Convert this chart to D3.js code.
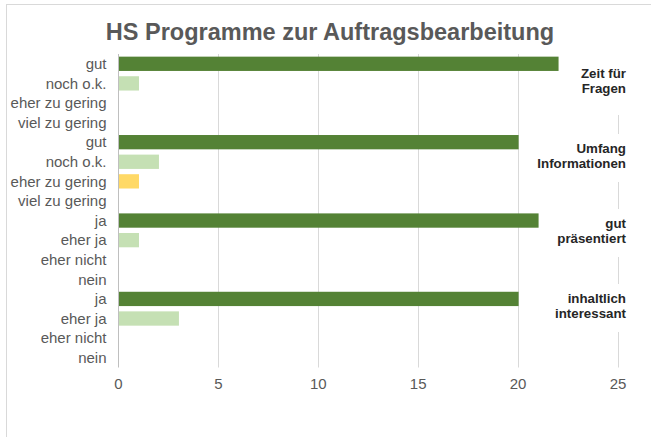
<!DOCTYPE html>
<html>

<head>
  <title>HS Programme zur Auftragsbearbeitung</title>
  <script src="https://d3js.org/d3.v7.min.js"></script>
  <style>
    body { margin: 0; background: #fff; }
    text { font-family: "Liberation Sans", Arial, sans-serif; }
  </style>
</head>

<body>
  <div id="chart"></div>

  <script type="text/javascript">
    // groups (right-hand labels), each with 4 answer rows
    var groups = ["Zeit für|Fragen", "Umfang|Informationen", "gut|präsentiert", "inhaltlich|interessant"]
    var answers = [
      ["gut", "noch o.k.", "eher zu gering", "viel zu gering"],
      ["gut", "noch o.k.", "eher zu gering", "viel zu gering"],
      ["ja", "eher ja", "eher nicht", "nein"],
      ["ja", "eher ja", "eher nicht", "nein"]
    ]
    var counts = [
      [22, 1, 0, 0],
      [20, 2, 1, 0],
      [21, 1, 0, 0],
      [20, 3, 0, 0]
    ]
    var xTicks = [0, 5, 10, 15, 20, 25]
    var answerColors = ["#548235", "#c5e0b4", "#ffd966", "#f4b183"]

    var width = 651, height = 437
    var margin = { top: 54, right: 33, bottom: 69.5, left: 118.5 }

    var rows = []
    groups.forEach((g, gi) => {
      answers[gi].forEach((a, ai) => {
        rows.push({ id: gi + "-" + ai, label: a, value: counts[gi][ai], color: answerColors[ai] })
      })
    })

    var svg = d3.select("#chart").append("svg")
      .attr("width", width).attr("height", height)

    // outer chart border (cut off at right/bottom like the screenshot)
    svg.append("rect")
      .attr("x", 6.5).attr("y", 4.5)
      .attr("width", width + 10).attr("height", height + 10)
      .attr("fill", "#fff").attr("stroke", "#d9d9d9")

    svg.append("text")
      .attr("x", 330).attr("y", 40)
      .attr("text-anchor", "middle")
      .attr("font-size", 23.5).attr("font-weight", "bold")
      .attr("fill", "#595959")
      .text("HS Programme zur Auftragsbearbeitung")

    var x = d3.scaleLinear().domain([0, 25]).range([margin.left, width - margin.right])
    var y = d3.scaleBand().domain(rows.map(r => r.id))
      .range([margin.top, height - margin.bottom]).paddingInner(0.27).paddingOuter(0.135)

    // gridlines
    svg.append("g")
      .selectAll("line")
      .data(xTicks.slice(1))
      .join("line")
      .attr("x1", d => Math.round(x(d)) + 0.5).attr("x2", d => Math.round(x(d)) + 0.5)
      .attr("y1", margin.top).attr("y2", height - margin.bottom)
      .attr("stroke", "#d9d9d9").attr("stroke-width", 1)

    // group labels, spaced slightly tighter than the groups; white box hides gridlines
    var gy = d3.scalePoint().domain(groups).range([73, 298])
    var gLabels = svg.append("g").selectAll("g")
      .data(groups)
      .join("g")
      .attr("transform", d => "translate(626," + gy(d) + ")")
    gLabels.append("rect")
      .attr("x", -95).attr("y", (d, i) => i == 0 ? -19 : -14)
      .attr("width", 98).attr("height", (d, i) => i == 0 ? 61 : 48)
      .attr("fill", "#fff")

    // bars
    svg.append("g")
      .selectAll("rect")
      .data(rows.filter(r => r.value > 0))
      .join("rect")
      .attr("x", x(0) + 0.5)
      .attr("y", d => y(d.id))
      .attr("width", d => x(d.value) - x(0))
      .attr("height", y.bandwidth())
      .attr("fill", d => d.color)

    // category axis line
    svg.append("line")
      .attr("x1", x(0)).attr("x2", x(0))
      .attr("y1", margin.top).attr("y2", height - margin.bottom)
      .attr("stroke", "#bfbfbf")

    // answer labels
    svg.append("g")
      .selectAll("text")
      .data(rows)
      .join("text")
      .attr("x", x(0) - 12)
      .attr("y", d => y(d.id) + y.bandwidth() / 2)
      .attr("dy", "0.35em")
      .attr("text-anchor", "end")
      .attr("font-size", 15)
      .attr("fill", "#595959")
      .text(d => d.label)

    // value axis labels
    svg.append("g")
      .selectAll("text")
      .data(xTicks)
      .join("text")
      .attr("x", d => x(d))
      .attr("y", height - margin.bottom + 16)
      .attr("dy", "0.35em")
      .attr("text-anchor", "middle")
      .attr("font-size", 15)
      .attr("fill", "#595959")
      .text(d => d)

    gLabels.each(function (d) {
      var lines = d.split("|")
      var t = d3.select(this).append("text")
        .attr("text-anchor", "end")
        .attr("font-size", 13.3).attr("font-weight", "bold")
        .attr("fill", "#262626")
      lines.forEach((l, i) => {
        t.append("tspan").attr("x", 0).attr("y", i * 15.5).attr("dy", "0.35em").text(l)
      })
    })
  </script>

</body>

</html>
